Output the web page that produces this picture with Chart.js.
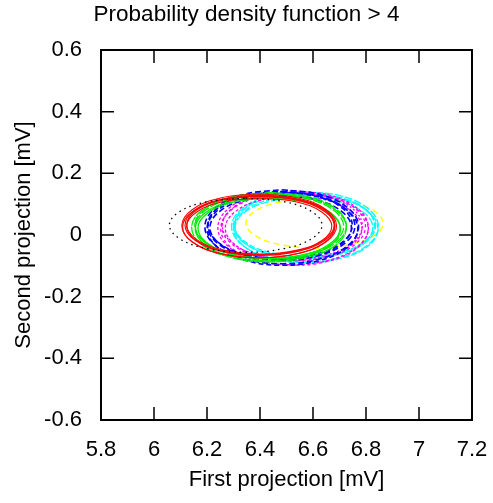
<!DOCTYPE html>
<html>
<head>
<meta charset="utf-8">
<script src="https://cdn.jsdelivr.net/npm/chart.js@4"></script>
<style>
  html, body { margin: 0; padding: 0; background: #fff; }
  #wrap { width: 493px; height: 503px; }
</style>
</head>
<body>
<div id="wrap"><canvas id="chart-output"></canvas></div>
<script>
// axis ticks
const xTickValues = [5.8, 6.0, 6.2, 6.4, 6.6, 6.8, 7.0, 7.2];
const xTickLabels = ["5.8", "6", "6.2", "6.4", "6.6", "6.8", "7", "7.2"];
const yTickValues = [-0.6, -0.4, -0.2, 0, 0.2, 0.4, 0.6];
const yTickLabels = ["-0.6", "-0.4", "-0.2", "0", "0.2", "0.4", "0.6"];

// contour points (first projection / second projection, mV)
const black1X = [6.346, 6.490, 6.595, 6.634, 6.595, 6.490, 6.346, 6.202, 6.097, 6.058, 6.097, 6.202, 6.346];
const black1Y = [0.120, 0.108, 0.076, 0.032, -0.012, -0.044, -0.056, -0.044, -0.012, 0.032, 0.076, 0.108, 0.120];

const red1X = [6.397, 6.543, 6.650, 6.689, 6.650, 6.543, 6.397, 6.251, 6.144, 6.105, 6.144, 6.251, 6.397];
const red1Y = [0.134, 0.120, 0.082, 0.030, -0.022, -0.060, -0.074, -0.060, -0.022, 0.030, 0.082, 0.120, 0.134];
const red2X = [6.400, 6.542, 6.645, 6.683, 6.645, 6.542, 6.400, 6.258, 6.155, 6.117, 6.155, 6.258, 6.400];
const red2Y = [0.130, 0.117, 0.081, 0.032, -0.017, -0.053, -0.066, -0.053, -0.017, 0.032, 0.081, 0.117, 0.130];
const red3X = [6.397, 6.534, 6.634, 6.671, 6.634, 6.534, 6.397, 6.260, 6.160, 6.123, 6.160, 6.260, 6.397];
const red3Y = [0.120, 0.108, 0.074, 0.028, -0.018, -0.052, -0.064, -0.052, -0.018, 0.028, 0.074, 0.108, 0.120];
const red4X = [6.395, 6.539, 6.644, 6.682, 6.644, 6.539, 6.395, 6.251, 6.146, 6.108, 6.146, 6.251, 6.395];
const red4Y = [0.126, 0.113, 0.076, 0.026, -0.024, -0.061, -0.074, -0.061, -0.024, 0.026, 0.076, 0.113, 0.126];
const red5X = [6.402, 6.541, 6.643, 6.680, 6.643, 6.541, 6.402, 6.263, 6.161, 6.124, 6.161, 6.263, 6.402];
const red5Y = [0.128, 0.115, 0.081, 0.033, -0.015, -0.049, -0.062, -0.049, -0.015, 0.033, 0.081, 0.115, 0.128];

const green1X = [6.434, 6.580, 6.687, 6.726, 6.687, 6.580, 6.434, 6.288, 6.181, 6.142, 6.181, 6.288, 6.434];
const green1Y = [0.135, 0.120, 0.080, 0.024, -0.032, -0.072, -0.087, -0.072, -0.032, 0.024, 0.080, 0.120, 0.135];
const green2X = [6.436, 6.576, 6.678, 6.716, 6.678, 6.576, 6.436, 6.296, 6.194, 6.156, 6.194, 6.296, 6.436];
const green2Y = [0.132, 0.118, 0.080, 0.028, -0.024, -0.062, -0.076, -0.062, -0.024, 0.028, 0.080, 0.118, 0.132];
const green3X = [6.434, 6.568, 6.666, 6.702, 6.666, 6.568, 6.434, 6.300, 6.202, 6.166, 6.202, 6.300, 6.434];
const green3Y = [0.120, 0.107, 0.071, 0.022, -0.027, -0.063, -0.076, -0.063, -0.027, 0.022, 0.071, 0.107, 0.120];
const green4X = [6.440, 6.583, 6.688, 6.726, 6.688, 6.583, 6.440, 6.297, 6.192, 6.154, 6.192, 6.297, 6.440];
const green4Y = [0.138, 0.124, 0.084, 0.030, -0.024, -0.064, -0.078, -0.064, -0.024, 0.030, 0.084, 0.124, 0.138];
const green5X = [6.430, 6.567, 6.667, 6.704, 6.667, 6.567, 6.430, 6.293, 6.193, 6.156, 6.193, 6.293, 6.430];
const green5Y = [0.124, 0.110, 0.072, 0.020, -0.032, -0.070, -0.084, -0.070, -0.032, 0.020, 0.072, 0.110, 0.124];

const blue1X = [6.482, 6.627, 6.733, 6.772, 6.733, 6.627, 6.482, 6.337, 6.231, 6.192, 6.231, 6.337, 6.482];
const blue1Y = [0.147, 0.131, 0.087, 0.027, -0.033, -0.077, -0.093, -0.077, -0.033, 0.027, 0.087, 0.131, 0.147];
const blue2X = [6.480, 6.619, 6.721, 6.758, 6.721, 6.619, 6.480, 6.341, 6.239, 6.202, 6.239, 6.341, 6.480];
const blue2Y = [0.142, 0.127, 0.086, 0.030, -0.026, -0.067, -0.082, -0.067, -0.026, 0.030, 0.086, 0.127, 0.142];
const blue3X = [6.478, 6.612, 6.709, 6.745, 6.709, 6.612, 6.478, 6.344, 6.247, 6.211, 6.247, 6.344, 6.478];
const blue3Y = [0.128, 0.114, 0.076, 0.024, -0.028, -0.066, -0.080, -0.066, -0.028, 0.024, 0.076, 0.114, 0.128];
const blue4X = [6.485, 6.627, 6.731, 6.769, 6.731, 6.627, 6.485, 6.343, 6.239, 6.201, 6.239, 6.343, 6.485];
const blue4Y = [0.138, 0.122, 0.079, 0.020, -0.039, -0.082, -0.098, -0.082, -0.039, 0.020, 0.079, 0.122, 0.138];
const blue5X = [6.476, 6.612, 6.712, 6.748, 6.712, 6.612, 6.476, 6.340, 6.240, 6.204, 6.240, 6.340, 6.476];
const blue5Y = [0.140, 0.126, 0.086, 0.032, -0.022, -0.062, -0.076, -0.062, -0.022, 0.032, 0.086, 0.126, 0.140];

const magenta1X = [6.525, 6.667, 6.771, 6.809, 6.771, 6.667, 6.525, 6.383, 6.279, 6.241, 6.279, 6.383, 6.525];
const magenta1Y = [0.144, 0.128, 0.084, 0.024, -0.036, -0.080, -0.096, -0.080, -0.036, 0.024, 0.084, 0.128, 0.144];
const magenta2X = [6.527, 6.663, 6.762, 6.798, 6.762, 6.663, 6.527, 6.391, 6.292, 6.256, 6.292, 6.391, 6.527];
const magenta2Y = [0.140, 0.125, 0.084, 0.028, -0.028, -0.069, -0.084, -0.069, -0.028, 0.028, 0.084, 0.125, 0.140];
const magenta3X = [6.527, 6.656, 6.750, 6.785, 6.750, 6.656, 6.527, 6.398, 6.304, 6.269, 6.304, 6.398, 6.527];
const magenta3Y = [0.126, 0.112, 0.074, 0.022, -0.030, -0.068, -0.082, -0.068, -0.030, 0.022, 0.074, 0.112, 0.126];
const magenta4X = [6.530, 6.669, 6.771, 6.808, 6.771, 6.669, 6.530, 6.391, 6.289, 6.252, 6.289, 6.391, 6.530];
const magenta4Y = [0.138, 0.122, 0.079, 0.020, -0.039, -0.082, -0.098, -0.082, -0.039, 0.020, 0.079, 0.122, 0.138];
const magenta5X = [6.522, 6.654, 6.751, 6.786, 6.751, 6.654, 6.522, 6.390, 6.293, 6.258, 6.293, 6.390, 6.522];
const magenta5Y = [0.138, 0.124, 0.084, 0.030, -0.024, -0.064, -0.078, -0.064, -0.024, 0.030, 0.084, 0.124, 0.138];

const cyan1X = [6.570, 6.709, 6.810, 6.847, 6.810, 6.709, 6.570, 6.431, 6.330, 6.293, 6.330, 6.431, 6.570];
const cyan1Y = [0.141, 0.126, 0.084, 0.027, -0.030, -0.072, -0.087, -0.072, -0.030, 0.027, 0.084, 0.126, 0.141];
const cyan2X = [6.568, 6.702, 6.800, 6.836, 6.800, 6.702, 6.568, 6.434, 6.336, 6.300, 6.336, 6.434, 6.568];
const cyan2Y = [0.136, 0.122, 0.083, 0.030, -0.023, -0.062, -0.076, -0.062, -0.023, 0.030, 0.083, 0.122, 0.136];
const cyan3X = [6.566, 6.696, 6.791, 6.826, 6.791, 6.696, 6.566, 6.436, 6.341, 6.306, 6.341, 6.436, 6.566];
const cyan3Y = [0.122, 0.109, 0.073, 0.024, -0.025, -0.061, -0.074, -0.061, -0.025, 0.024, 0.073, 0.109, 0.122];
const cyan4X = [6.573, 6.709, 6.809, 6.845, 6.809, 6.709, 6.573, 6.437, 6.337, 6.301, 6.337, 6.437, 6.573];
const cyan4Y = [0.130, 0.115, 0.075, 0.020, -0.035, -0.075, -0.090, -0.075, -0.035, 0.020, 0.075, 0.115, 0.130];
const cyan5X = [6.568, 6.700, 6.797, 6.832, 6.797, 6.700, 6.568, 6.436, 6.339, 6.304, 6.339, 6.436, 6.568];
const cyan5Y = [0.134, 0.120, 0.083, 0.032, -0.019, -0.056, -0.070, -0.056, -0.019, 0.032, 0.083, 0.120, 0.134];

const yellow1X = [6.606, 6.736, 6.830, 6.865, 6.830, 6.736, 6.606, 6.476, 6.382, 6.347, 6.382, 6.476, 6.606];
const yellow1Y = [0.118, 0.107, 0.078, 0.038, -0.002, -0.031, -0.042, -0.031, -0.002, 0.038, 0.078, 0.107, 0.118];

function pts(xs, ys) {
  return xs.map((x, i) => ({ x: x, y: ys[i] }));
}

function ring(xs, ys, color, dash, width) {
  return {
    data: pts(xs, ys),
    showLine: true,
    borderColor: color,
    borderWidth: width || 1.3,
    borderDash: dash || [],
    pointRadius: 0,
    tension: 0.4,
    fill: false,
  };
}

const FONT = "'Liberation Sans', Arial, sans-serif";
const hiddenTicks = (len) => ({ display: true, drawOnChartArea: false, drawTicks: true, tickLength: len, color: 'rgba(0,0,0,0)' });

// gnuplot-like frame with inward ticks on all four sides
const framePlugin = {
  id: 'frame',
  afterDraw(chart) {
    const ctx = chart.ctx;
    const a = chart.chartArea;
    const xs = chart.scales.x, ys = chart.scales.y;
    const tl = 13;
    ctx.save();
    ctx.strokeStyle = '#000';
    ctx.lineWidth = 1.5;
    ctx.beginPath();
    xs.ticks.forEach(t => {
      const px = xs.getPixelForValue(t.value);
      ctx.moveTo(px, a.bottom); ctx.lineTo(px, a.bottom - tl);
      ctx.moveTo(px, a.top); ctx.lineTo(px, a.top + tl);
    });
    ys.ticks.forEach(t => {
      const py = ys.getPixelForValue(t.value);
      ctx.moveTo(a.left, py); ctx.lineTo(a.left + tl, py);
      ctx.moveTo(a.right, py); ctx.lineTo(a.right - tl, py);
    });
    ctx.stroke();
    ctx.lineWidth = 2;
    ctx.strokeRect(a.left, a.top, a.right - a.left, a.bottom - a.top);
    ctx.restore();
  }
};

var ctx = document.getElementById("chart-output");
var myChart = new Chart(ctx, {
  type: 'scatter',
  data: {
    datasets: [
      ring(black1X, black1Y, '#000000', [1.5, 4], 1.3),
      ring(red1X, red1Y, '#ff0000', [], 1.1),
      ring(red2X, red2Y, '#ff0000', [], 1.1),
      ring(red3X, red3Y, '#ff0000', [], 1.1),
      ring(red4X, red4Y, '#ff0000', [], 1.1),
      ring(red5X, red5Y, '#ff0000', [], 1.1),
      ring(green1X, green1Y, '#00ee00', [10, 1]),
      ring(green2X, green2Y, '#00ee00', [9, 2]),
      ring(green3X, green3Y, '#00ee00'),
      ring(green4X, green4Y, '#00ee00', [12, 2]),
      ring(green5X, green5Y, '#00ee00'),
      ring(blue1X, blue1Y, '#0000ff', [6, 3], 1.6),
      ring(blue2X, blue2Y, '#0000ff', [6, 3], 1.6),
      ring(blue3X, blue3Y, '#0000ff', [6, 3], 1.6),
      ring(blue4X, blue4Y, '#0000ff', [5, 3], 1.6),
      ring(blue5X, blue5Y, '#0000ff', [5, 3], 1.6),
      ring(magenta1X, magenta1Y, '#ff00ff', [3, 2], 1.3),
      ring(magenta2X, magenta2Y, '#ff00ff', [3, 3], 1.3),
      ring(magenta3X, magenta3Y, '#ff00ff', [3, 2], 1.3),
      ring(magenta4X, magenta4Y, '#ff00ff', [3, 3], 1.3),
      ring(magenta5X, magenta5Y, '#ff00ff', [2, 2], 1.3),
      ring(cyan1X, cyan1Y, '#00ffff', [8, 2], 1.3),
      ring(cyan2X, cyan2Y, '#00ffff', [8, 2], 1.3),
      ring(cyan3X, cyan3Y, '#00ffff', [8, 2], 1.3),
      ring(cyan4X, cyan4Y, '#00ffff', [6, 2], 1.3),
      ring(cyan5X, cyan5Y, '#00ffff', [6, 2], 1.3),
      ring(yellow1X, yellow1Y, '#ffff00', [6, 4], 1.5),
    ]
  },
  options: {
    responsive: true,
    maintainAspectRatio: false,
    animation: false,
    layout: { padding: 0 },
    plugins: {
      legend: { display: false },
      tooltip: { enabled: false },
      title: {
        display: true,
        text: 'Probability density function > 4',
        color: '#000',
        font: { family: FONT, size: 22.5, weight: 'normal' },
        padding: { top: 1, bottom: 22 },
      },
    },
    scales: {
      x: {
        type: 'linear',
        min: 5.8, max: 7.2,
        afterBuildTicks: s => { s.ticks = xTickValues.map(v => ({ value: v })); },
        afterFit: s => { s.height = 83; },
        ticks: {
          color: '#000',
          font: { family: FONT, size: 22 },
          padding: 0,
          maxRotation: 0,
          autoSkip: false,
          callback: (v, i) => xTickLabels[i],
        },
        grid: hiddenTicks(17),
        border: { display: false },
        title: {
          display: true,
          text: 'First projection [mV]',
          color: '#000',
          font: { family: FONT, size: 22 },
          padding: { top: 0, bottom: 10 },
        },
      },
      y: {
        type: 'linear',
        min: -0.6, max: 0.6,
        afterBuildTicks: s => { s.ticks = yTickValues.map(v => ({ value: v })); },
        afterFit: s => { s.width = 101; },
        ticks: {
          color: '#000',
          font: { family: FONT, size: 22 },
          padding: 0,
          autoSkip: false,
          callback: (v, i) => yTickLabels[i],
        },
        grid: hiddenTicks(19),
        border: { display: false },
        title: {
          display: true,
          text: 'Second projection [mV]',
          color: '#000',
          font: { family: FONT, size: 22 },
          padding: { top: 11, bottom: 0 },
        },
      },
      yRight: {
        type: 'linear',
        position: 'right',
        min: -0.6, max: 0.6,
        afterFit: s => { s.width = 21; },
        ticks: { display: false },
        grid: { display: false, drawTicks: false },
        border: { display: false },
      },
    },
  },
  plugins: [framePlugin],
});
</script>
</body>
</html>
